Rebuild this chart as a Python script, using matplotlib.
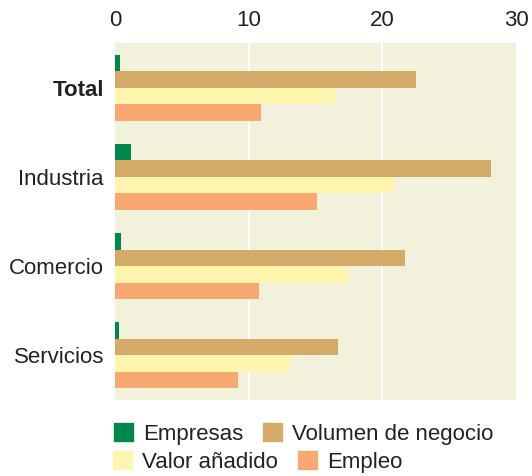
import numpy as np
import matplotlib.pyplot as plt
from matplotlib.patches import Patch

plt.rcParams['font.family'] = ['Liberation Sans', 'DejaVu Sans']

# sectores y series (porcentajes)
sectores = ['Total', 'Industria', 'Comercio', 'Servicios']
series = ['Empresas', 'Volumen de negocio', 'Valor añadido', 'Empleo']
empresas = [0.4, 1.2, 0.45, 0.3]
volumen = [22.5, 28.1, 21.7, 16.7]
valor = [16.5, 20.9, 17.4, 13.1]
empleo = [10.9, 15.1, 10.8, 9.2]
colores = ['#00884A', '#D4AA69', '#FFF5AF', '#F8A870']

fig = plt.figure(figsize=(5.32, 4.76), dpi=100)
ax = fig.add_axes([115 / 532, 1 - 400 / 476, 401 / 532, 357 / 476])
ax.set_facecolor('#F2F2DC')

y = np.arange(len(sectores))
h = 0.185
valores = [empresas, volumen, valor, empleo]
for i, (vals, col) in enumerate(zip(valores, colores)):
    ax.barh(y + (i - 1.5) * h, vals, height=h, color=col, zorder=2)

ax.set_xlim(0, 30)
ax.set_ylim(3.5, -0.5)
ax.set_xticks([0, 10, 20, 30])
ax.xaxis.tick_top()
ax.tick_params(axis='x', length=0, pad=9, labelsize=16, colors='#222222')
ax.set_yticks(y)
ax.set_yticklabels(sectores)
ax.tick_params(axis='y', length=0, pad=8, labelsize=16, colors='#222222')
ax.get_yticklabels()[0].set_fontweight('bold')
for v in [10, 20]:
    ax.axvline(v, color='white', lw=1.5, zorder=1)
for s in ax.spines.values():
    s.set_visible(False)

# leyenda en dos filas
h1 = [Patch(color=colores[0], label=series[0]), Patch(color=colores[1], label=series[1])]
h2 = [Patch(color=colores[2], label=series[2]), Patch(color=colores[3], label=series[3])]
kw = dict(frameon=False, ncol=2, fontsize=16, handlelength=0.85, handleheight=0.85,
          handletextpad=0.45, columnspacing=0.9, borderpad=0, borderaxespad=0,
          labelcolor='#222222')
fig.legend(handles=h1, loc='center left', bbox_to_anchor=(114 / 532, 1 - 434 / 476), **kw)
fig.legend(handles=h2, loc='center left', bbox_to_anchor=(113 / 532, 1 - 462 / 476), **kw)

fig.savefig('out.png', dpi=100)
